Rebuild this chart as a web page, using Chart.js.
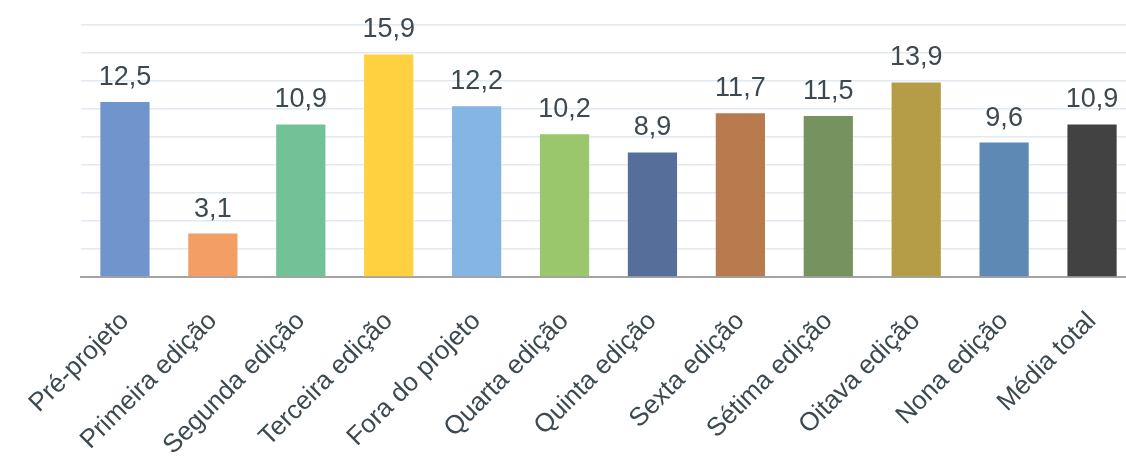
<!DOCTYPE html>
<html>
<head>
<meta charset="utf-8">
<script src="https://cdn.jsdelivr.net/npm/chart.js@4"></script>
<style>
    html, body { margin: 0; padding: 0; background: #fff; overflow: hidden; }
    #wrap { width: 1126px; height: 469px; overflow: hidden; }
</style>
</head>
<body>
<div id="wrap"><canvas id="chart" width="1136" height="469"></canvas></div>
<script>
var categories = [
    "Pré-projeto", "Primeira edição", "Segunda edição", "Terceira edição",
    "Fora do projeto", "Quarta edição", "Quinta edição", "Sexta edição",
    "Sétima edição", "Oitava edição", "Nona edição", "Média total"
];
var values = [12.5, 3.1, 10.9, 15.9, 12.2, 10.2, 8.9, 11.7, 11.5, 13.9, 9.6, 10.9];
var bar_colors = [
    "#7094cc", "#f29e64", "#73c196", "#ffd040", "#84b5e3", "#9bc76c",
    "#556e9a", "#b97a4e", "#76935f", "#b59c46", "#5e89b4", "#424242"
];

var text_color = "#3d4950";
var font_family = '"Liberation Sans", Arial, sans-serif';

function fmt(v) {
    return v.toFixed(1).replace(".", ",");
}

// value labels above the bars
var value_labels = {
    id: 'value_labels',
    afterDatasetsDraw: function(chart) {
        var ctx = chart.ctx;
        var meta = chart.getDatasetMeta(0);
        ctx.save();
        ctx.font = '27px ' + font_family;
        ctx.fillStyle = text_color;
        ctx.textAlign = 'center';
        ctx.textBaseline = 'alphabetic';
        meta.data.forEach(function(bar, i) {
            ctx.fillText(fmt(values[i]), bar.x, bar.y - 17);
        });
        ctx.restore();
    }
};

new Chart(document.getElementById("chart"), {
    type: "bar",
    data: {
        labels: categories,
        datasets: [{
            data: values,
            backgroundColor: bar_colors,
            borderWidth: 0,
            barPercentage: 0.56,
            categoryPercentage: 1.0
        }]
    },
    options: {
        responsive: false,
        animation: false,
        layout: { padding: { top: 25, left: 0, right: 0, bottom: 0 } },
        plugins: {
            legend: { display: false },
            tooltip: { enabled: false }
        },
        scales: {
            x: {
                grid: { display: false, drawTicks: false },
                border: { display: true, color: "#a3a3a3", width: 2 },
                ticks: {
                    color: text_color,
                    font: { family: font_family, size: 26 },
                    maxRotation: 45,
                    minRotation: 45,
                    autoSkip: false,
                    padding: 29
                },
                afterFit: function(s) {
                    s.height = 192;
                    s.paddingLeft = 0;
                    s.paddingRight = 0;
                }
            },
            y: {
                min: 0,
                max: 18,
                ticks: { display: false, stepSize: 2 },
                grid: { color: "#e2eaf1", lineWidth: 1.5, drawTicks: false },
                border: { display: false },
                afterFit: function(s) { s.width = 81; }
            }
        }
    },
    plugins: [value_labels]
});
</script>
</body>
</html>
